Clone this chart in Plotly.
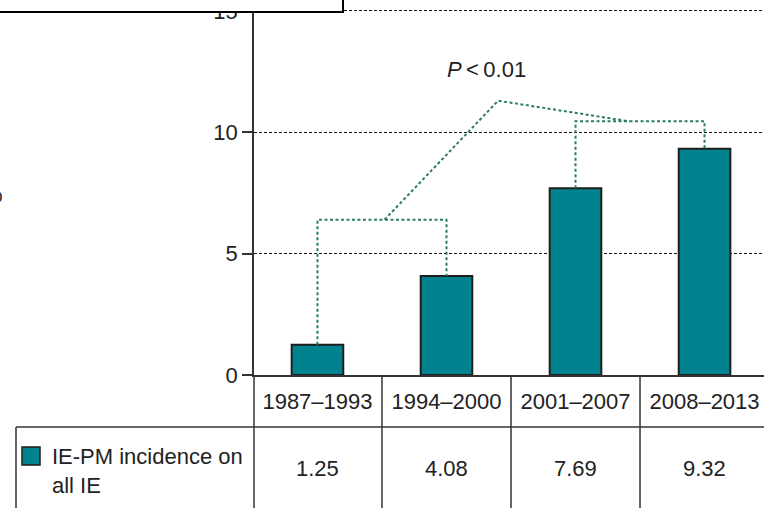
import plotly.graph_objects as go

# data
periods = ['1987–1993', '1994–2000', '2001–2007', '2008–2013']
incidence = [1.25, 4.08, 7.69, 9.32]
y_ticks = [0, 5, 10, 15]
series_name = 'IE-PM incidence on<br>all IE'
p_label = '<i>P</i>\u2009<\u20090.01'

TEAL = '#00838f'
EDGE = '#1e1e1e'
GREEN = '#2b7d5c'
LINE = '#333333'
FONT = 'Liberation Sans, Arial, sans-serif'

W, H = 764, 508
ML, MB = 254, 133
PW, PH = W - ML, H - MB


def px_x(px):
    # pixel -> paper x
    return (px - ML) / PW


def px_y(py):
    # pixel -> paper y
    return (PH - py) / PH


xs = list(range(len(periods)))

fig = go.Figure()

fig.add_trace(go.Bar(
    x=xs, y=incidence, width=0.4,
    marker=dict(color=TEAL, line=dict(color=EDGE, width=2)),
    showlegend=False, hoverinfo='skip'
))

# significance brackets
lo_h, hi_h = 6.4, 10.45
sig_line = dict(color=GREEN, width=2, dash='3px,2.5px')
fig.add_trace(go.Scatter(
    x=[xs[0], xs[0], xs[1], xs[1]],
    y=[incidence[0], lo_h, lo_h, incidence[1]],
    mode='lines', line=sig_line, showlegend=False, hoverinfo='skip'
))
fig.add_trace(go.Scatter(
    x=[xs[2], xs[2], xs[3], xs[3]],
    y=[incidence[2], hi_h, hi_h, incidence[3]],
    mode='lines', line=sig_line, showlegend=False, hoverinfo='skip'
))
fig.add_trace(go.Scatter(
    x=[0.52, 1.40, 2.42],
    y=[lo_h, 11.3, hi_h],
    mode='lines', line=sig_line, showlegend=False, hoverinfo='skip'
))

fig.add_annotation(x=1.31, y=12.57, text=p_label, showarrow=False,
                   font=dict(size=22, color='#222'), xanchor='center', yanchor='middle')

# table below the plot
shapes = []
line_style = dict(color=LINE, width=1.5)
bottom = px_y(H + 5)
shapes.append(dict(type='line', xref='paper', yref='paper', x0=0, x1=0,
                   y0=0, y1=bottom, line=line_style))
for b in [0.5, 1.5, 2.5, 3.5]:
    shapes.append(dict(type='line', xref='x', yref='paper', x0=b, x1=b,
                       y0=0, y1=bottom, line=line_style))
shapes.append(dict(type='line', xref='paper', yref='paper', x0=px_x(16), x1=1.02,
                   y0=px_y(427), y1=px_y(427), line=line_style))
shapes.append(dict(type='line', xref='paper', yref='paper', x0=px_x(16), x1=px_x(16),
                   y0=px_y(427), y1=bottom, line=line_style))
# legend swatch
shapes.append(dict(type='rect', xref='paper', yref='paper',
                   x0=px_x(22), x1=px_x(40), y0=px_y(465), y1=px_y(447),
                   fillcolor=TEAL, line=dict(color=EDGE, width=1.5)))
# box cut off at the top left
shapes.append(dict(type='rect', xref='paper', yref='paper', layer='above',
                   x0=px_x(-6), x1=px_x(343), y0=px_y(12), y1=px_y(-6),
                   fillcolor='white', line=dict(color='black', width=2)))

for x, v in zip(xs, incidence):
    fig.add_annotation(x=x, xref='x', y=px_y(468), yref='paper', text=f'{v:.2f}',
                       showarrow=False, font=dict(size=22, color='#222'),
                       xanchor='center', yanchor='middle')

fig.add_annotation(x=px_x(50), y=px_y(471), xref='paper', yref='paper',
                   text=series_name, showarrow=False, align='left',
                   font=dict(size=22, color='#222'), xanchor='left', yanchor='middle')

# y-axis title, mostly cropped in the source
fig.add_annotation(x=px_x(5), y=px_y(194), xref='paper', yref='paper', text='%',
                   showarrow=False, font=dict(size=22, color='#222'),
                   xanchor='right', yanchor='middle')

fig.update_layout(
    width=W, height=H,
    margin=dict(l=ML, r=0, t=0, b=MB, pad=0),
    plot_bgcolor='white', paper_bgcolor='white',
    font=dict(family=FONT, size=22, color='#222'),
    shapes=shapes,
    xaxis=dict(
        range=[-0.492, 3.461], tickmode='array', tickvals=xs, ticktext=periods,
        showline=True, linecolor=LINE, linewidth=1.5, ticks='',
        showgrid=False, zeroline=False, ticklabelstandoff=6,
        ticklabeloverflow='allow', tickfont=dict(size=22)
    ),
    yaxis=dict(
        range=[0, 15.45], tickmode='array', tickvals=y_ticks,
        showline=True, linecolor=LINE, linewidth=1.5,
        ticks='outside', ticklen=10, tickwidth=1.5, tickcolor=LINE,
        showgrid=True, gridcolor='#111', gridwidth=1.3, griddash='3px,2px',
        zeroline=False, ticklabeloverflow='allow', tickfont=dict(size=22)
    ),
)

fig.write_html('out.html', config={'displayModeBar': False},
               post_script="document.body.style.margin='0';")
